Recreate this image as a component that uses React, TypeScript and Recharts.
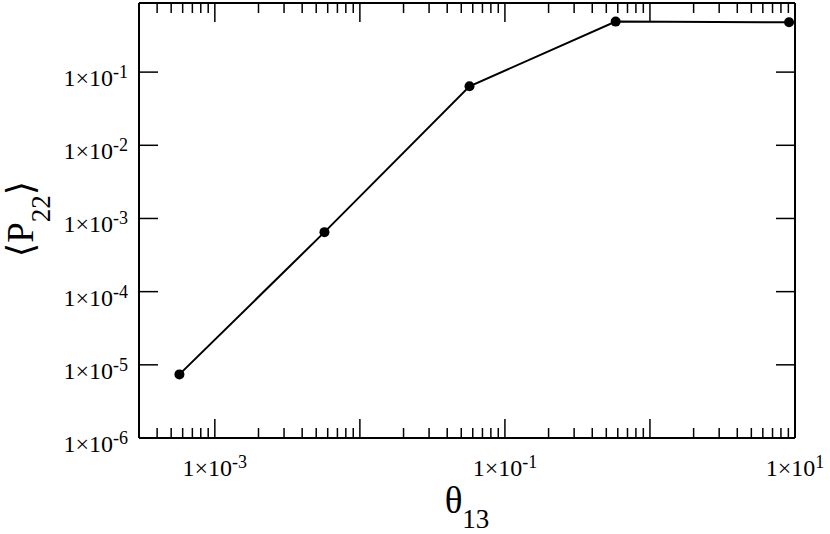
import { Line, LineChart, XAxis, YAxis } from "recharts";

// values (log-log)
const THETA_13 = [5.7e-4, 5.7e-3, 5.7e-2, 0.58, 9.1];
const P_22 = [7.4e-6, 6.5e-4, 0.064, 0.49, 0.48];

const X_DOMAIN: [number, number] = [3e-4, 10];
const Y_DOMAIN: [number, number] = [1e-6, 0.88];

const X_DECADES = [1e-4, 1e-3, 1e-2, 1e-1, 1, 10];
const X_LABEL_EXPONENTS = [-3, -1, 1];
const Y_DECADES = [1e-6, 1e-5, 1e-4, 1e-3, 1e-2, 1e-1];
const MINOR_STEPS = [1, 2, 3, 4, 5, 6, 7, 8, 9];

const FONT = "'Liberation Serif', 'DejaVu Serif', serif";
const INK = "#000";

const X_TICKS = X_DECADES.flatMap((d) => MINOR_STEPS.map((m) => m * d)).filter(
  (v) => v > X_DOMAIN[0] * 1.001 && v <= X_DOMAIN[1] * 1.001
);

const isDecade = (v: number) => Math.abs(Math.log10(v) - Math.round(Math.log10(v))) < 1e-6;
const expOf = (v: number) => Math.round(Math.log10(v));

function PowerLabel({ x, y, exp, anchor }: { x: number; y: number; exp: number; anchor: "middle" | "end" }) {
  return (
    <text x={x} y={y} textAnchor={anchor} fill={INK} style={{ fontFamily: FONT, fontSize: 24 }}>
      1×10
      <tspan dy={-8} style={{ fontSize: 18 }}>
        {exp}
      </tspan>
    </text>
  );
}

// tickSize/tickMargin are 0, so (x, y) sits on the axis line; ticks point inwards
function BottomTick(props: any) {
  const { x, y, payload } = props;
  const v = payload.value as number;
  const major = isDecade(v);
  return (
    <g>
      <line x1={x} x2={x} y1={y} y2={y - (major ? 19 : 10)} stroke={INK} strokeWidth={1.5} />
      {major && X_LABEL_EXPONENTS.includes(expOf(v)) && <PowerLabel x={x} y={y + 38} exp={expOf(v)} anchor="middle" />}
    </g>
  );
}

function TopTick(props: any) {
  const { x, y, payload } = props;
  const major = isDecade(payload.value);
  return <line x1={x} x2={x} y1={y} y2={y + (major ? 19 : 10)} stroke={INK} strokeWidth={1.5} />;
}

function LeftTick(props: any) {
  const { x, y, payload } = props;
  return (
    <g>
      <line x1={x} x2={x + 19} y1={y} y2={y} stroke={INK} strokeWidth={1.5} />
      <PowerLabel x={x - 11} y={y + 14} exp={expOf(payload.value)} anchor="end" />
    </g>
  );
}

function RightTick(props: any) {
  const { x, y } = props;
  return <line x1={x} x2={x - 19} y1={y} y2={y} stroke={INK} strokeWidth={1.5} />;
}

const XTitle = () => (
  <text x={467} y={513} textAnchor="middle" fill={INK} style={{ fontFamily: FONT, fontSize: 37 }}>
    θ
    <tspan dy={15} style={{ fontSize: 27 }}>
      13
    </tspan>
  </text>
);

const YTitle = () => (
  <text
    x={33}
    y={219}
    transform="rotate(-90 33 219)"
    textAnchor="middle"
    fill={INK}
    style={{ fontFamily: FONT, fontSize: 37 }}
  >
    ⟨P
    <tspan dy={17} style={{ fontSize: 27 }}>
      22
    </tspan>
    <tspan dy={-17}>⟩</tspan>
  </text>
);

export default function App() {
  const data = THETA_13.map((theta, i) => ({ theta, p: P_22[i] }));
  const axisLine = { stroke: INK, strokeWidth: 2 };

  return (
    <div style={{ position: "absolute", left: 0, top: 0, width: 830, height: 534, background: "#fff" }}>
      <LineChart width={830} height={534} data={data} margin={{ top: 0, right: 0, bottom: 0, left: 0 }}>
        <XAxis
          xAxisId="bottom"
          dataKey="theta"
          type="number"
          scale="log"
          domain={X_DOMAIN}
          allowDataOverflow
          ticks={X_TICKS}
          interval={0}
          tickSize={0}
          tickMargin={0}
          tickLine={false}
          axisLine={axisLine}
          tick={<BottomTick />}
          height={96}
          label={{ content: XTitle }}
        />
        <XAxis
          xAxisId="top"
          orientation="top"
          dataKey="theta"
          type="number"
          scale="log"
          domain={X_DOMAIN}
          allowDataOverflow
          ticks={X_TICKS}
          interval={0}
          tickSize={0}
          tickMargin={0}
          tickLine={false}
          axisLine={axisLine}
          tick={<TopTick />}
          height={3}
        />
        <YAxis
          yAxisId="left"
          dataKey="p"
          type="number"
          scale="log"
          domain={Y_DOMAIN}
          allowDataOverflow
          ticks={Y_DECADES}
          interval={0}
          tickSize={0}
          tickMargin={0}
          tickLine={false}
          axisLine={axisLine}
          tick={<LeftTick />}
          width={139}
          label={{ content: YTitle }}
        />
        <YAxis
          yAxisId="right"
          orientation="right"
          dataKey="p"
          type="number"
          scale="log"
          domain={Y_DOMAIN}
          allowDataOverflow
          ticks={Y_DECADES}
          interval={0}
          tickSize={0}
          tickMargin={0}
          tickLine={false}
          axisLine={axisLine}
          tick={<RightTick />}
          width={35}
        />
        <Line
          xAxisId="bottom"
          yAxisId="left"
          dataKey="p"
          type="linear"
          stroke={INK}
          strokeWidth={2}
          dot={{ r: 5, fill: INK, stroke: INK, strokeWidth: 0 }}
          activeDot={false}
          isAnimationActive={false}
        />
      </LineChart>
    </div>
  );
}
